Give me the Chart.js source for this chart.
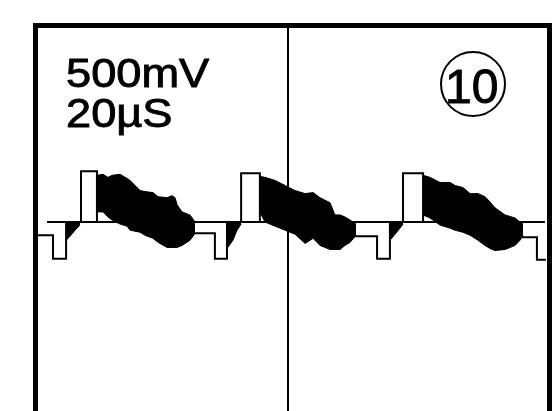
<!DOCTYPE html>
<html>
<head>
<meta charset="utf-8">
<script src="https://cdn.jsdelivr.net/npm/chart.js@4"></script>
<style>
  html, body { margin: 0; padding: 0; background: #fff; overflow: hidden; }
</style>
</head>
<body>
<canvas id="scope" width="554" height="411"></canvas>
<script>
// screen settings
const voltsLabel = "500mV";
const timeLabel = "20µS";
const traceNo = "10";
const gridTimes = [98.5];            // centre graticule line (µs)

// signal steps (µs, V) - level holds until the next time
const sigT = [0.8, 7.0, 12.1, 17.9, 24.1, 59.1, 70.0, 74.7, 80.2, 87.5, 123.7, 133.1, 138.1, 143.2, 151.0, 188.7, 195.3, 198.8];
const sigV = [-0.07, -0.07, -0.30, 0.06, 0.56, 0.06, -0.05, -0.30, 0.06, 0.54, 0.06, -0.08, -0.30, 0.06, 0.54, 0.06, -0.09, -0.31];

// reference line
const baseT = [4.7, 198.4];
const baseV = [0.06, 0.06];

// noise envelope (upper / lower), null = gap between bursts
const noiseT = [
  12.1, 13.6, 15.6, 17.5, 20,
  24.1, 26.5, 28.4, 30.0, 33.1, 35.8, 37.0, 40.9, 42.8, 45.9, 47.9, 51.4, 53.3, 54.5, 55.3, 57.2, 60.3, 62.3, 70,
  74.7, 77.0, 78.6, 80.2, 84,
  87.5, 89.5, 93.4, 97.3, 101.2, 105.1, 108.2, 110.9, 114.8, 116.7, 118.7, 120.6, 122.6, 124.9, 130,
  138.1, 140.1, 142.0, 143.2, 147,
  151.0, 153.7, 157.6, 161.5, 163.4, 166.5, 169.3, 172.4, 175.1, 177.0, 179.0, 182.9, 186.8, 188.7, 189.9
];
const noiseHi = [
  0.06, 0.06, 0.06, 0.06, null,
  0.52, 0.53, 0.50, 0.52, 0.53, 0.49, 0.47, 0.37, 0.36, 0.35, 0.31, 0.30, 0.32, 0.30, 0.23, 0.16, 0.13, 0.06, null,
  0.06, 0.06, 0.06, 0.06, null,
  0.51, 0.50, 0.47, 0.42, 0.37, 0.34, 0.35, 0.30, 0.25, 0.13, 0.13, 0.11, 0.08, 0.04, null,
  0.06, 0.06, 0.06, 0.06, null,
  0.52, 0.50, 0.45, 0.45, 0.42, 0.40, 0.34, 0.34, 0.31, 0.26, 0.20, 0.13, 0.10, 0.06, 0.04
];
const noiseLo = [
  -0.12, -0.08, -0.02, 0.03, null,
  0.16, 0.16, 0.11, 0.08, 0.04, 0.02, -0.02, -0.04, -0.07, -0.10, -0.14, -0.19, -0.19, -0.19, -0.19, -0.17, -0.12, -0.05, null,
  -0.20, -0.12, -0.02, 0.04, null,
  0.16, 0.06, 0.02, -0.02, -0.06, -0.15, -0.10, -0.17, -0.21, -0.21, -0.21, -0.17, -0.14, -0.07, null,
  -0.12, -0.06, 0.00, 0.04, null,
  0.13, 0.10, 0.03, 0.00, -0.02, -0.04, -0.07, -0.12, -0.17, -0.20, -0.22, -0.21, -0.17, -0.12, -0.07
];

const pts = (xs, ys) => xs.map((x, i) => ({ x: x, y: ys[i] }));

// labels + circled trace number
const scopeText = {
  id: "scopeText",
  afterDraw(chart) {
    const ctx = chart.ctx;
    ctx.save();
    ctx.fillStyle = "#000";
    ctx.strokeStyle = "#000";
    ctx.textBaseline = "alphabetic";
    ctx.lineWidth = 0.9;
    ctx.font = '40px "Liberation Sans", Arial, sans-serif';
    [[voltsLabel, 87], [timeLabel, 127]].forEach(([txt, y]) => {
      ctx.save();
      ctx.translate(66, y);
      ctx.scale(1.13, 1);
      ctx.fillText(txt, 0, 0);
      ctx.strokeText(txt, 0, 0);
      ctx.restore();
    });

    ctx.lineWidth = 2;
    ctx.beginPath();
    ctx.arc(473, 84, 32, 0, Math.PI * 2);
    ctx.stroke();
    ctx.lineWidth = 0.9;
    ctx.font = '48px "Liberation Sans", Arial, sans-serif';
    ctx.fillText(traceNo, 445, 103);
    ctx.strokeText(traceNo, 445, 103);
    ctx.restore();
  }
};

new Chart(document.getElementById("scope"), {
  type: "line",
  data: {
    datasets: [
      {
        data: pts(noiseT, noiseHi),
        borderColor: "#000",
        backgroundColor: "#000",
        borderWidth: 1,
        fill: "+1",
        spanGaps: false
      },
      {
        data: pts(noiseT, noiseLo),
        borderColor: "#000",
        borderWidth: 1,
        fill: false,
        spanGaps: false
      },
      {
        data: pts(baseT, baseV),
        borderColor: "#000",
        borderWidth: 2,
        fill: false
      },
      {
        data: pts(sigT, sigV),
        borderColor: "#000",
        borderWidth: 2,
        stepped: "after",
        fill: false
      }
    ]
  },
  options: {
    responsive: false,
    animation: false,
    devicePixelRatio: 1,
    layout: { padding: { left: 35, right: 5, top: 25, bottom: 0 } },
    elements: { point: { radius: 0 }, line: { tension: 0 } },
    plugins: { legend: { display: false }, tooltip: { enabled: false } },
    scales: {
      x: {
        type: "linear",
        position: "top",
        min: 0,
        max: 200,
        afterBuildTicks: s => { s.ticks = gridTimes.map(v => ({ value: v })); },
        ticks: { display: false },
        grid: { color: "#000", lineWidth: 2, drawTicks: false },
        border: { display: true, color: "#000", width: 5 }
      },
      y: {
        min: -1.8,
        max: 2.0,
        ticks: { display: false },
        grid: { display: false, drawTicks: false },
        border: { display: true, color: "#000", width: 5 }
      },
      y2: {
        position: "right",
        min: -1.8,
        max: 2.0,
        ticks: { display: false },
        grid: { display: false, drawTicks: false },
        border: { display: true, color: "#000", width: 5 }
      }
    }
  },
  plugins: [scopeText]
});
</script>
</body>
</html>
